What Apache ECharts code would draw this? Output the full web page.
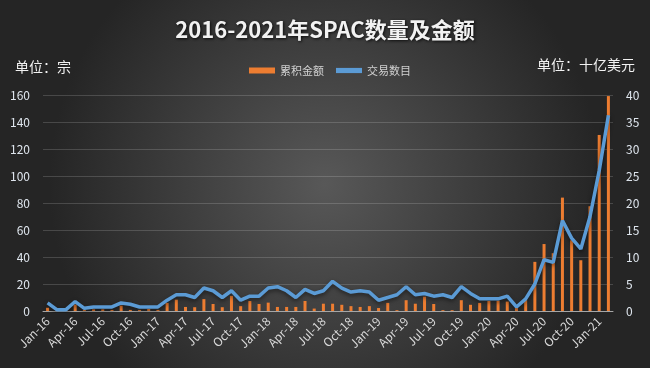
<!DOCTYPE html>
<html><head><meta charset="utf-8">
<script src="https://cdn.jsdelivr.net/npm/echarts@6/dist/echarts.min.js"></script>
<style>html,body{margin:0;padding:0;background:#333}#c{width:650px;height:368px}</style>
</head><body><div id="c"></div>
<script>
const titleText = '2016-2021年SPAC数量及金额';
const leftUnit = '单位：宗';
const rightUnit = '单位：十亿美元';
const seriesNames = ['累积金额', '交易数目'];
const categories = [
 'Jan-16','Feb-16','Mar-16','Apr-16','May-16','Jun-16','Jul-16','Aug-16','Sep-16','Oct-16','Nov-16','Dec-16',
 'Jan-17','Feb-17','Mar-17','Apr-17','May-17','Jun-17','Jul-17','Aug-17','Sep-17','Oct-17','Nov-17','Dec-17',
 'Jan-18','Feb-18','Mar-18','Apr-18','May-18','Jun-18','Jul-18','Aug-18','Sep-18','Oct-18','Nov-18','Dec-18',
 'Jan-19','Feb-19','Mar-19','Apr-19','May-19','Jun-19','Jul-19','Aug-19','Sep-19','Oct-19','Nov-19','Dec-19',
 'Jan-20','Feb-20','Mar-20','Apr-20','May-20','Jun-20','Jul-20','Aug-20','Sep-20','Oct-20','Nov-20','Dec-20',
 'Jan-21','Feb-21'
];
// 累积金额 (十亿美元, right axis)
const amountBillion = [
 0.6,0,0,1.2,0.2,0.3,0.3,0.2,1.0,0.2,0.2,0.4,
 0.2,1.5,2.1,0.75,0.7,2.2,1.3,0.7,2.8,0.9,1.85,1.3,
 1.55,0.75,0.75,0.75,1.85,0.45,1.35,1.35,1.15,0.9,0.75,0.9,
 0.55,1.5,0.15,2.0,1.35,2.65,1.3,0.15,0.15,2.0,1.15,1.5,
 1.85,1.9,1.75,0.8,2.0,9.1,12.4,10.7,21,13.1,9.4,19.4,
 32.6,39.8
];
// 交易数目 (宗, left axis)
const dealCount = [
 6,1,1,7,2,3,3,3,6,5,3,3,
 3,8,12,12,10,17,15,10,15,8,11,11,
 17,18,15,10,16,13,15,22,17,14,15,14,
 8,10,12,18,12,13,11,12,10,18,13,9,
 9,9,11,3,9,20,38,36,67,54,46,70,
 104,145
];
const leftAxis = {min: 0, max: 160, interval: 20};
const rightAxis = {min: 0, max: 40, interval: 5};

const chart = echarts.init(document.getElementById('c'));
const fontFam = '"Noto Sans CJK SC","Microsoft YaHei",sans-serif';
chart.setOption({
  animation: false,
  backgroundColor: {
    type: 'radial', x: 0.5, y: 0.5, r: 0.75,
    colorStops: [{offset: 0, color: '#585858'}, {offset: 1, color: '#252525'}]
  },
  textStyle: {fontFamily: fontFam},
  title: [{
    text: titleText, left: 'center', top: 14,
    textStyle: {color: '#f2f2f2', fontSize: 22, fontWeight: 'bold', fontFamily: fontFam,
      textShadowColor: 'rgba(0,0,0,0.8)', textShadowBlur: 3, textShadowOffsetX: 1, textShadowOffsetY: 1}
  }, {
    text: leftUnit, left: 10, top: 55,
    textStyle: {color: '#f2f2f2', fontSize: 14, fontWeight: 'normal', fontFamily: fontFam}
  }, {
    text: rightUnit, right: 10, top: 53,
    textStyle: {color: '#f2f2f2', fontSize: 14, fontWeight: 'normal', fontFamily: fontFam}
  }],
  legend: {
    data: [
      {name: seriesNames[0], icon: 'rect'},
      {name: seriesNames[1], icon: 'path://M0,0 L10,0 L10,2 L0,2 Z'}
    ],
    left: 244, top: 60, itemWidth: 26, itemHeight: 6, itemGap: 12,
    textStyle: {color: '#d0d0d0', fontSize: 11, fontFamily: fontFam}
  },
  grid: {left: 43, right: 37, top: 95, bottom: 57},
  xAxis: {
    type: 'category', data: categories, boundaryGap: true,
    axisLine: {lineStyle: {color: '#a6a6a6', width: 1}},
    axisTick: {interval: 2, length: 5, lineStyle: {color: '#a6a6a6'}},
    axisLabel: {interval: 2, rotate: 45, color: '#d9d9d9', fontSize: 12, margin: 8, fontFamily: fontFam}
  },
  yAxis: [{
    type: 'value', min: leftAxis.min, max: leftAxis.max, interval: leftAxis.interval,
    axisLine: {show: false}, axisTick: {show: false},
    axisLabel: {color: '#dfe6ee', fontSize: 12, margin: 13, fontFamily: fontFam},
    splitLine: {lineStyle: {color: 'rgba(255,255,255,0.16)', width: 1}}
  }, {
    type: 'value', min: rightAxis.min, max: rightAxis.max, interval: rightAxis.interval,
    axisLine: {show: false}, axisTick: {show: false},
    axisLabel: {color: '#dfe6ee', fontSize: 12, margin: 13, fontFamily: fontFam},
    splitLine: {show: false}
  }],
  series: [{
    name: seriesNames[0], type: 'bar', yAxisIndex: 1, data: amountBillion,
    barWidth: 3, itemStyle: {color: '#ed7d31'}
  }, {
    name: seriesNames[1], type: 'line', yAxisIndex: 0, data: dealCount,
    symbol: 'none', lineStyle: {color: '#5b9bd5', width: 3.5,
      shadowColor: 'rgba(0,0,0,0.5)', shadowBlur: 4, shadowOffsetY: 2},
    itemStyle: {color: '#5b9bd5'}
  }]
});
</script></body></html>
